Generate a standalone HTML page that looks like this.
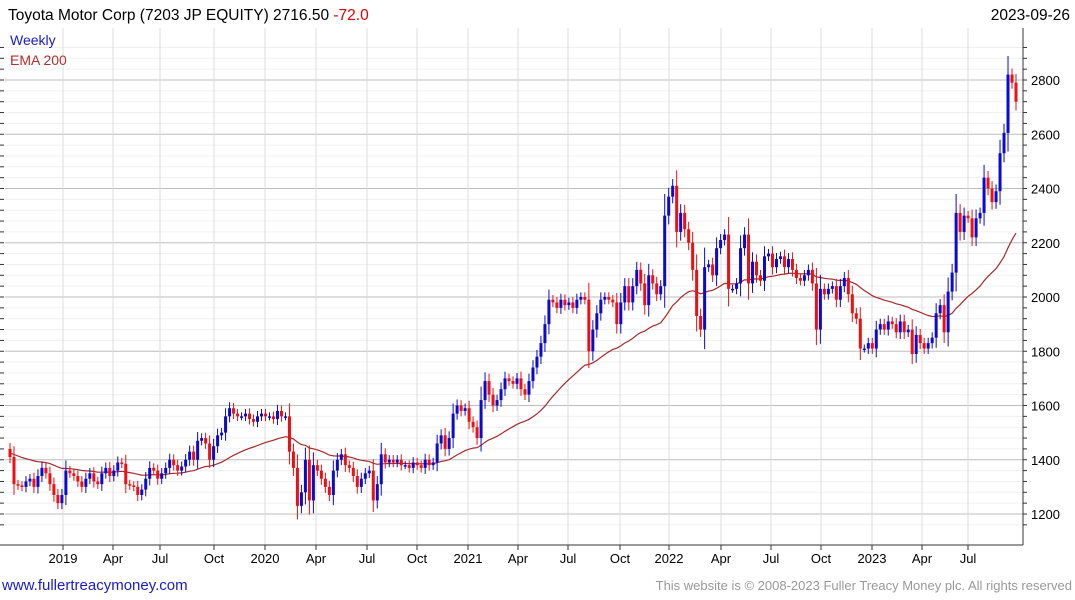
<!DOCTYPE html>
<html><head><meta charset="utf-8"><style>
body{margin:0;background:#fff;width:1075px;height:600px;overflow:hidden;font-family:"Liberation Sans",sans-serif}
svg{position:absolute;left:0;top:0}
</style></head><body>
<svg id="c" width="1075" height="600">
<g id="grid"></g>
<text x="8" y="20" font-size="15.5" fill="#000">Toyota Motor Corp (7203 JP EQUITY) 2716.50 <tspan fill="#e00000">-72.0</tspan></text>
<text x="1070" y="20" font-size="15.5" fill="#000" text-anchor="end">2023-09-26</text>
<text x="10" y="45" font-size="14" fill="#1a1acc">Weekly</text>
<text x="10" y="65" font-size="14" fill="#b03030">EMA 200</text>
<text x="2" y="590" font-size="15" fill="#1a1acc">www.fullertreacymoney.com</text>
<text x="1072" y="590" font-size="13" fill="#999" text-anchor="end">This website is © 2008-2023 Fuller Treacy Money plc. All rights reserved</text>
<g id="marks"></g><g id="axes"></g>
</svg>
<script>
const closes=[1410,1310,1305,1300,1320,1330,1300,1340,1370,1350,1310,1270,1240,1270,1360,1350,1340,1320,1300,1330,1350,1320,1310,1350,1370,1340,1360,1390,1385,1310,1305,1300,1270,1290,1330,1370,1360,1330,1350,1370,1400,1380,1360,1375,1400,1430,1400,1470,1480,1460,1400,1450,1490,1500,1560,1590,1570,1560,1560,1570,1550,1540,1560,1570,1560,1560,1550,1580,1560,1560,1430,1370,1230,1280,1400,1250,1380,1360,1330,1300,1270,1360,1400,1420,1380,1370,1340,1300,1330,1350,1360,1250,1310,1420,1390,1400,1390,1400,1380,1380,1370,1390,1380,1370,1400,1380,1390,1460,1490,1440,1480,1570,1600,1580,1590,1540,1520,1480,1620,1690,1640,1600,1620,1660,1700,1690,1680,1700,1660,1640,1690,1740,1780,1830,1900,1990,1980,1960,1990,1970,1980,1960,1990,2000,1990,1800,1880,1940,1990,2000,1990,1980,1900,1980,2040,1980,2040,2100,2050,1970,2080,2050,2010,2040,2300,2370,2410,2240,2310,2250,2200,2100,1930,1880,2110,2120,2080,2180,2210,2230,2030,2030,2050,2180,2230,2050,2130,2080,2060,2150,2160,2110,2140,2150,2110,2140,2100,2070,2060,2080,2100,2050,1880,2030,2010,2030,2040,1990,2040,2070,2010,1940,1920,1810,1810,1830,1810,1880,1900,1880,1910,1900,1870,1910,1870,1880,1790,1860,1830,1810,1830,1850,1940,1970,1870,2020,2090,2310,2240,2300,2290,2220,2290,2310,2440,2400,2350,2390,2530,2605,2820,2790,2720];
const firstOpen=1440;
const yTicks=[1200,1400,1600,1800,2000,2200,2400,2600,2800];
const xLabels=["2019","Apr","Jul","Oct","2020","Apr","Jul","Oct","2021","Apr","Jul","Oct","2022","Apr","Jul","Oct","2023","Apr","Jul"];
const xLabelPos=[63,113,160,214,265,316,367,417,468,518,568,620,669,721,771,821,872,922,968];
const NS='http://www.w3.org/2000/svg';
const L=5,R=1023,T=28,B=545,X0=10,X1=1016;
const y=v=>80+(2800-v)*0.27125;
const x=i=>X0+i*(X1-X0)/(closes.length-1);
function mk(p,t,a){const e=document.createElementNS(NS,t);for(const k in a)e.setAttribute(k,a[k]);p.appendChild(e);return e;}
const G=document.getElementById('grid'),M=document.getElementById('marks'),A=document.getElementById('axes');
for(let v=1160;v<=2920;v+=40){if(y(v)<T||y(v)>B)continue;const l=mk(G,'line',{x1:L,x2:R,y1:y(v),y2:y(v),stroke:(v%200===0)?'#bdbdbd':'#f0f0f0','stroke-width':1});


const t=mk(A,'line',{x1:R,x2:R+4,y1:y(v),y2:y(v),stroke:'#333'});


const t2=mk(A,'line',{x1:0,x2:4,y1:y(v),y2:y(v),stroke:'#333'});

}
xLabelPos.forEach((px,i)=>{const l=mk(G,'line',{x1:px,x2:px,y1:T,y2:B,stroke:'#dcdcdc'});


const t=mk(A,'text',{x:px,y:563,'font-size':13,'text-anchor':'middle',fill:'#000'});t.textContent=xLabels[i];


const k=mk(A,'line',{x1:px,x2:px,y1:B,y2:B+5,stroke:'#333'});

});
yTicks.forEach(v=>{const t=mk(A,'text',{x:1031,y:y(v)+5,'font-size':13,fill:'#000'});t.textContent=v;

});
const ax=mk(A,'line',{x1:R,x2:R,y1:T,y2:B,stroke:'#333'});


const bx=mk(A,'line',{x1:0,x2:R,y1:B,y2:B,stroke:'#333'});


const a=2/41;let e=1425;const pts=[];
closes.forEach((c,i)=>{e=i===0?e:e+a*(c-e);pts.push(x(i).toFixed(1)+','+y(e).toFixed(1));});
const pl=mk(M,'polyline',{points:pts.join(' '),fill:'none',stroke:'#a52a2a','stroke-width':1.2});


closes.forEach((c,i)=>{const o=i===0?firstOpen:closes[i-1];const up=c>=o;const col=up?'#0a0ad0':'#ee1010';
const top=y(Math.max(o,c)),bot=y(Math.min(o,c));const w=4+0.25*(bot-top);
const wk=mk(M,'line',{x1:x(i),x2:x(i),y1:top-w,y2:bot+w,stroke:col,'stroke-width':1});


const r=mk(M,'rect',{x:x(i)-1.5,y:top,width:3,height:Math.max(1.5,bot-top),fill:col});

});
</script>
</body></html>
